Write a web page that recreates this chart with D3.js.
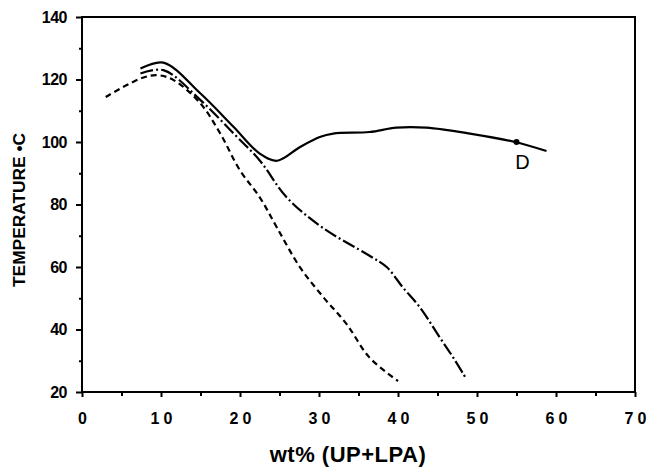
<!DOCTYPE html>
<html>
<head>
<meta charset="utf-8">
<script src="https://cdn.jsdelivr.net/npm/d3@7"></script>
<style>
  body { margin: 0; background: #fff; }
  svg { display: block; }
</style>
</head>
<body>
<div id="chart"></div>
<script>
// curve data (wt% , temperature C)
var solidX  = [7.4, 10.3, 15.0, 19.2, 22.5, 24.7, 27.6, 30.1, 31.8, 36.4, 39.8, 43.6, 49.1, 54.8, 58.8];
var solidY  = [123.5, 125.4, 115.5, 104.8, 96.3, 94.0, 98.4, 101.6, 102.7, 103.2, 104.6, 104.6, 102.7, 100.0, 97.1];

var dashDotX = [7.4, 10.3, 15.0, 19.2, 22.5, 25.9, 30.5, 36.4, 38.6, 40.6, 42.8, 45.3, 47.0, 48.5];
var dashDotY = [121.9, 123.0, 113.4, 102.7, 94.1, 82.3, 72.5, 63.6, 59.9, 53.5, 47.0, 37.4, 31.0, 24.8];

var dashX = [3.0, 7.4, 9.5, 11.6, 15.0, 17.5, 20.0, 22.5, 24.7, 27.6, 30.5, 33.5, 36.4, 40.0];
var dashY = [114.4, 120.3, 121.4, 119.8, 112.3, 102.7, 90.9, 82.3, 72.5, 59.9, 50.5, 41.7, 31.0, 23.5];

var pointD = [55, 100];

var xTicks = [0, 10, 20, 30, 40, 50, 60, 70];
var xMinor = [5, 15, 25, 35, 45, 55, 65];
var yTicks = [20, 40, 60, 80, 100, 120, 140];
var yMinor = [30, 50, 70, 90, 110, 130];

var font = "Liberation Sans, Arial, sans-serif";

var outerWidth = 649,
    outerHeight = 468,
    margin = {top: 17, right: 14, bottom: 76, left: 82},
    width = outerWidth - margin.left - margin.right,
    height = outerHeight - margin.top - margin.bottom;

var x = d3.scaleLinear()
    .domain([0, 70])
    .range([0, width]);

var y = d3.scaleLinear()
    .domain([20, 140])
    .range([height, 0]);

var svg = d3.select("#chart").append("svg")
    .attr("width", outerWidth)
    .attr("height", outerHeight)
  .append("g")
    .attr("transform", "translate(" + margin.left + "," + margin.top + ")");

// frame
svg.append("rect")
    .attr("width", width)
    .attr("height", height)
    .attr("fill", "none")
    .attr("stroke", "#000")
    .attr("stroke-width", 2);

// x axis
var xAxis = svg.append("g")
    .attr("transform", "translate(0," + height + ")")
    .call(d3.axisBottom(x).tickValues(xTicks).tickSize(5).tickPadding(16));
xAxis.select(".domain").remove();
xAxis.selectAll(".tick line").attr("stroke-width", 2);
xAxis.selectAll(".tick text")
    .attr("font-family", font)
    .attr("font-weight", "bold")
    .attr("font-size", 16)
    .attr("letter-spacing", "4px")
    .attr("dx", "2px");

svg.append("g")
    .attr("transform", "translate(0," + height + ")")
    .call(d3.axisBottom(x).tickValues(xMinor).tickSize(4).tickFormat(""))
    .call(function(g){ g.select(".domain").remove(); })
    .selectAll(".tick line").attr("stroke-width", 2);

// y axis
var yAxis = svg.append("g")
    .call(d3.axisLeft(y).tickValues(yTicks).tickSize(6).tickPadding(9));
yAxis.select(".domain").remove();
yAxis.selectAll(".tick line").attr("stroke-width", 2);
yAxis.selectAll(".tick text")
    .attr("font-family", font)
    .attr("font-weight", "bold")
    .attr("font-size", 16)
    .attr("letter-spacing", "-0.5px");

svg.append("g")
    .call(d3.axisLeft(y).tickValues(yMinor).tickSize(3).tickFormat(""))
    .call(function(g){ g.select(".domain").remove(); })
    .selectAll(".tick line").attr("stroke-width", 2);

// axis titles
svg.append("text")
    .attr("x", 348 - margin.left)
    .attr("y", height + 70)
    .attr("text-anchor", "middle")
    .attr("font-family", font)
    .attr("font-weight", "bold")
    .attr("font-size", 22)
    .attr("letter-spacing", "0.5px")
    .text("wt% (UP+LPA)");

svg.append("text")
    .attr("transform", "translate(" + (25 - margin.left) + "," + (210 - margin.top) + ") rotate(-90)")
    .attr("text-anchor", "middle")
    .attr("font-family", font)
    .attr("font-weight", "bold")
    .attr("font-size", 16)
    .attr("textLength", 154)
    .attr("lengthAdjust", "spacingAndGlyphs")
    .text("TEMPERATURE \u2022C");

// curves
var line = d3.line()
    .x(function(d){ return x(d[0]); })
    .y(function(d){ return y(d[1]); })
    .curve(d3.curveCatmullRom.alpha(0.5));

function pairs(xs, ys){
  return xs.map(function(v, i){ return [v, ys[i]]; });
}

svg.append("path")
    .datum(pairs(solidX, solidY))
    .attr("d", line)
    .attr("fill", "none")
    .attr("stroke", "#000")
    .attr("stroke-width", 2.2);

svg.append("path")
    .datum(pairs(dashDotX, dashDotY))
    .attr("d", line)
    .attr("fill", "none")
    .attr("stroke", "#000")
    .attr("stroke-width", 2.2)
    .attr("stroke-dasharray", "13,3,2,3");

svg.append("path")
    .datum(pairs(dashX, dashY))
    .attr("d", line)
    .attr("fill", "none")
    .attr("stroke", "#000")
    .attr("stroke-width", 2.2)
    .attr("stroke-dasharray", "6,4");

// point D
svg.append("circle")
    .attr("cx", x(pointD[0]))
    .attr("cy", y(pointD[1]))
    .attr("r", 3)
    .attr("fill", "#000");

svg.append("text")
    .attr("x", x(pointD[0]) + 6)
    .attr("y", y(pointD[1]) + 27)
    .attr("text-anchor", "middle")
    .attr("font-family", font)
    .attr("font-size", 20)
    .text("D");
</script>
</body>
</html>
